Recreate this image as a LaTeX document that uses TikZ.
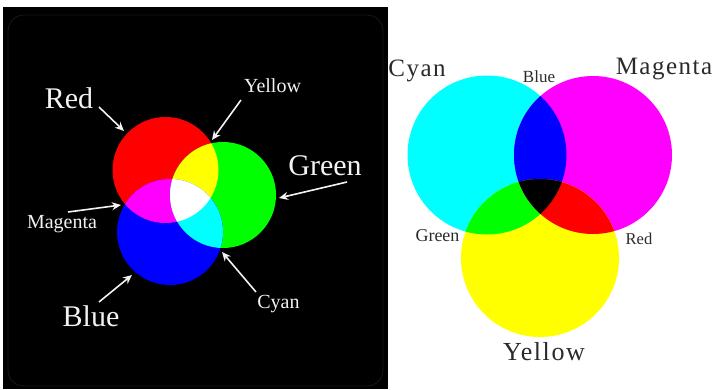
\documentclass[tikz,border=0pt]{standalone}
\usepackage{fontspec}
\setmainfont{Liberation Serif}
\newfontfamily\spacedfont[LetterSpace=6]{Liberation Serif}
\usetikzlibrary{arrows.meta}
\definecolor{pureR}{rgb}{1,0,0}
\definecolor{pureG}{rgb}{0,1,0}
\definecolor{pureB}{rgb}{0,0,1}
\definecolor{pureC}{rgb}{0,1,1}
\definecolor{pureM}{rgb}{1,0,1}
\definecolor{pureY}{rgb}{1,1,0}
\definecolor{inktext}{HTML}{2A2A2A}
\definecolor{rimgray}{HTML}{181818}
\definecolor{labelwhite}{HTML}{F2F2F2}
\begin{document}
\begin{tikzpicture}[x=1pt,y=-1pt,
  lbl/.style={text=labelwhite, inner sep=0pt, anchor=base},
  biglbl/.style={lbl, font=\fontsize{30}{36}\selectfont},
  smalllbl/.style={lbl, font=\fontsize{20}{24}\selectfont},
  ptr/.style={draw=labelwhite, line width=1.6pt, -{Stealth[length=9pt,width=8pt]}},
  cmylbl/.style={text=inktext, inner sep=0pt, anchor=base, font=\spacedfont\fontsize{25}{30}\selectfont},
  mixlbl/.style={text=inktext, inner sep=0pt, anchor=base}]
\useasboundingbox (0,0) rectangle (716,389);
% black panel
\fill[black] (3,7) rectangle (388,389);
\draw[rimgray, line width=0.8pt, rounded corners=16pt] (8,15) rectangle (383,386);
% additive (RGB) circles
\def\Rc{(165.5,170) circle[radius=53]}
\def\Gc{(223,195) circle[radius=53]}
\def\Bc{(170,232) circle[radius=53]}
\fill[pureR] \Rc;
\fill[pureG] \Gc;
\fill[pureB] \Bc;
\begin{scope}\clip \Rc; \fill[pureY] \Gc; \end{scope}
\begin{scope}\clip \Rc; \fill[pureM] \Bc; \end{scope}
\begin{scope}\clip \Gc; \fill[pureC] \Bc; \end{scope}
\begin{scope}\clip \Rc; \clip \Gc; \fill[white] \Bc; \end{scope}
% subtractive (CMY) circles
\def\Cc{(487,155) circle[radius=79.5]}
\def\Mc{(593,155) circle[radius=79]}
\def\Yc{(540,258) circle[radius=79]}
\fill[pureC] \Cc;
\fill[pureM] \Mc;
\fill[pureY] \Yc;
\begin{scope}\clip \Cc; \fill[pureB] \Mc; \end{scope}
\begin{scope}\clip \Cc; \fill[pureG] \Yc; \end{scope}
\begin{scope}\clip \Mc; \fill[pureR] \Yc; \end{scope}
\begin{scope}\clip \Cc; \clip \Mc; \fill[black] \Yc; \end{scope}
% left labels
\node[biglbl] (lred) at (69,108) {Red};
\node[smalllbl] (lyellow) at (272.5,92) {Yellow};
\node[biglbl] (lgreen) at (325,175) {Green};
\node[smalllbl] (lmagenta) at (62,228) {Magenta};
\node[biglbl] (lblue) at (91,326) {Blue};
\node[smalllbl] (lcyan) at (278.5,308) {Cyan};
% arrow coordinates
\coordinate (redS) at (99,107);   \coordinate (redE) at (124,131);
\coordinate (yelS) at (241,100);  \coordinate (yelE) at (212,140);
\coordinate (grnS) at (347,182);  \coordinate (grnE) at (279,198);
\coordinate (magS) at (68,212);   \coordinate (magE) at (121,205);
\coordinate (bluS) at (99,302);   \coordinate (bluE) at (132,275);
\coordinate (cyaS) at (256,292);  \coordinate (cyaE) at (222,252);
\draw[ptr] (redS) -- (redE);
\draw[ptr] (yelS) -- (yelE);
\draw[ptr] (grnS) -- (grnE);
\draw[ptr] (magS) -- (magE);
\draw[ptr] (bluS) -- (bluE);
\draw[ptr] (cyaS) -- (cyaE);
% right labels
\node[cmylbl] (rcyan) at (417,76.5) {Cyan};
\node[cmylbl] (rmagenta) at (664,74.3) {Magenta};
\node[cmylbl, font=\spacedfont\fontsize{26}{31}\selectfont] (ryellow) at (544,360) {Yellow};
\node[mixlbl, font=\fontsize{17}{20}\selectfont] (rblue) at (539,82.3) {Blue};
\node[mixlbl, font=\fontsize{18}{21}\selectfont] (rgreen) at (437.5,241.7) {Green};
\node[mixlbl, font=\fontsize{16.5}{20}\selectfont] (rred) at (639,244) {Red};
\end{tikzpicture}
\end{document}
